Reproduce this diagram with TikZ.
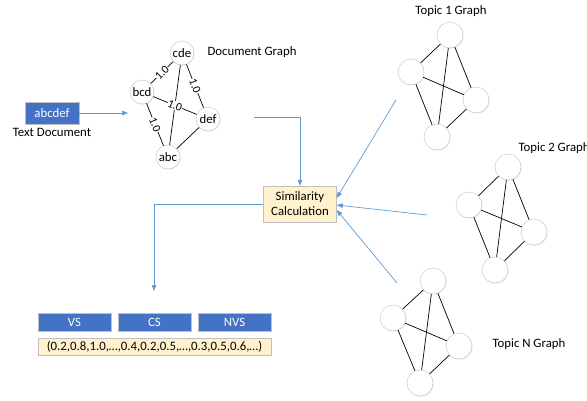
\documentclass[tikz,border=0pt]{standalone}
\usepackage{fontspec}
\setmainfont{Carlito}
\usetikzlibrary{arrows.meta,shadows}
\definecolor{boxblue}{HTML}{4472C4}
\definecolor{linkblue}{HTML}{5B9BD5}
\definecolor{calcfill}{HTML}{FFF2CC}
\definecolor{ringgray}{HTML}{BFBFBF}

\begin{document}
\begin{tikzpicture}[x=1pt,y=-1pt,font=\fontsize{12.8}{15}\selectfont,
  vert/.style={circle,draw=ringgray,fill=white,minimum size=#1,inner sep=0pt,
    drop shadow={shadow xshift=0.8pt,shadow yshift=-0.8pt,fill=linkblue!50,opacity=0.35}},
  vert/.default=24pt,
  edge/.style={draw=black,line width=0.7pt},
  wlbl/.style={midway,sloped,fill=white,inner sep=0.4pt,font=\fontsize{11.5}{13}\selectfont},
  tag/.style={draw=ringgray,fill=boxblue,text=white,minimum width=#1,minimum height=18pt,inner sep=0pt,
    drop shadow={shadow xshift=0.8pt,shadow yshift=-0.8pt,fill=black!40,opacity=0.3}},
  calc/.style={draw=ringgray,fill=calcfill,inner sep=0pt,
    drop shadow={shadow xshift=0.8pt,shadow yshift=-0.8pt,fill=black!40,opacity=0.3}},
  link/.style={draw=linkblue,line width=0.7pt,-{Triangle[length=6pt,width=4.5pt]}}]

\useasboundingbox (0,0) rectangle (587,400);

% ---------- text document ----------
\node[tag=54pt,minimum height=22pt] (doc) at (52,113) {abcdef};
\node (doclbl) at (52,132) {Text Document};
\coordinate (dgin) at (128,113);
\draw[link] (doc) -- (dgin);

% ---------- document graph ----------
\node[vert] (cde) at (182,53) {cde};
\node[vert] (bcd) at (142,92) {bcd};
\node[vert] (def) at (208,119) {def};
\node[vert] (abc) at (168,157) {abc};
\draw[edge] (cde) -- (abc);
\draw[edge] (def) -- (abc);
\draw[edge] (cde) -- node[wlbl] {1.0} (bcd);
\draw[edge] (cde) -- node[wlbl] {1.0} (def);
\draw[edge] (bcd) -- node[wlbl] {1.0} (def);
\draw[edge] (bcd) -- node[wlbl] {1.0} (abc);
\node[anchor=west] (dglbl) at (204,52) {Document Graph};

% ---------- similarity ----------
\node[calc,minimum width=73pt,minimum height=36pt,align=center] (sim) at (300,204) {Similarity\\Calculation};
\coordinate (dgout) at (254,117);
\draw[link] (dgout) -| (sim.north);

% ---------- topic 1 ----------
\begin{scope}[shift={(450,35)}]
  \node[vert=26pt] (t1a) at (0,0) {};
  \node[vert=26pt] (t1b) at (-39,37) {};
  \node[vert=26pt] (t1c) at (26,65) {};
  \node[vert=26pt] (t1d) at (-13,102) {};
\end{scope}
\draw[edge] (t1a) -- (t1b) (t1a) -- (t1c) (t1a) -- (t1d)
  (t1b) -- (t1c) (t1b) -- (t1d) (t1c) -- (t1d);
\node (t1lbl) at (451,11) {Topic 1 Graph};

% ---------- topic 2 ----------
\begin{scope}[shift={(508,167)}]
  \node[vert=26pt] (t2a) at (0,0) {};
  \node[vert=26pt] (t2b) at (-39,38) {};
  \node[vert=26pt] (t2c) at (26,65) {};
  \node[vert=26pt] (t2d) at (-13,103) {};
\end{scope}
\draw[edge] (t2a) -- (t2b) (t2a) -- (t2c) (t2a) -- (t2d)
  (t2b) -- (t2c) (t2b) -- (t2d) (t2c) -- (t2d);
\node[anchor=west] (t2lbl) at (515,148) {Topic 2 Graph};

% ---------- topic N ----------
\begin{scope}[shift={(433,281)}]
  \node[vert=26pt] (tna) at (0,0) {};
  \node[vert=26pt] (tnb) at (-40,37) {};
  \node[vert=26pt] (tnc) at (26,65) {};
  \node[vert=26pt] (tnd) at (-13,102) {};
\end{scope}
\draw[edge] (tna) -- (tnb) (tna) -- (tnc) (tna) -- (tnd)
  (tnb) -- (tnc) (tnb) -- (tnd) (tnc) -- (tnd);
\node[anchor=west] (tnlbl) at (489,344) {Topic N Graph};

% topic links
\coordinate (t1out) at (396,100);
\coordinate (t2out) at (427,215);
\coordinate (tnout) at (397,283);
\draw[link] (t1out) -- ([yshift=6pt]sim.east);
\draw[link] (t2out) -- ([yshift=-1pt]sim.east);
\draw[link] (tnout) -- ([yshift=-6pt]sim.east);

% ---------- output vector ----------
\coordinate (vecin) at (154,291);
\draw[link] (sim.west) -| (vecin);
\node[tag=73pt] (vs) at (74.5,322) {VS};
\node[tag=73pt] (cs) at (154.5,322) {CS};
\node[tag=73pt] (nvs) at (234.5,322) {NVS};
\node[calc,minimum width=233pt,minimum height=17pt] (vec) at (154.5,346.5)
  {(0.2,0.8,1.0,…,0.4,0.2,0.5,…,0.3,0.5,0.6,…)};
\end{tikzpicture}
\end{document}
